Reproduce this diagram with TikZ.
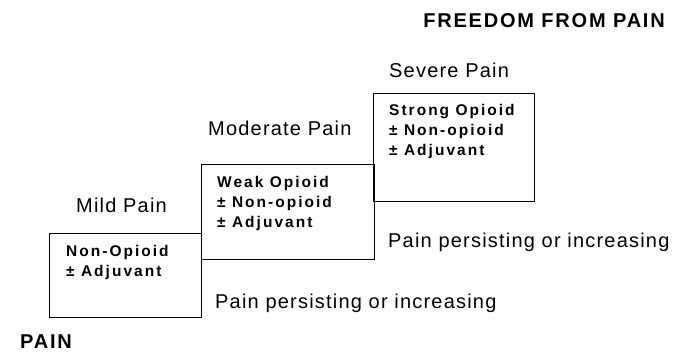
\documentclass[tikz,border=0pt]{standalone}
\usepackage{fontspec}
\setmainfont{Liberation Sans}
\newfontfamily\stepfont[LetterSpace=6]{Liberation Sans}
\newfontfamily\drugfont[LetterSpace=13]{Liberation Sans}
\newfontfamily\goalfont[LetterSpace=9]{Liberation Sans}
\usetikzlibrary{positioning,calc}

\tikzset{
	stepbox/.style={draw, line width=0.8pt, inner sep=0pt, anchor=north west},
	painlabel/.style={font=\stepfont\fontsize{20}{24}\selectfont, inner sep=0pt, anchor=base west},
	druglabel/.style={font=\drugfont\bfseries\fontsize{15.5}{20}\selectfont, inner sep=0pt, anchor=base west, align=left},
	goallabel/.style={font=\goalfont\bfseries\fontsize{20}{24}\selectfont, inner sep=0pt}
}

\begin{document}
\begin{tikzpicture}[x=1pt, y=-1pt]
	\useasboundingbox (0,0) rectangle (689,352);
	% the three steps
	\node[stepbox, minimum width=152pt, minimum height=84pt] (mild) at (49,233) {};
	\node[stepbox, minimum width=173pt, minimum height=95pt] (moderate) at (201,164) {};
	\node[stepbox, minimum width=161pt, minimum height=108pt] (severe) at (373,93) {};

	% base anchor sits on the last line
	\node[druglabel] (milddrug) at ($(mild.north west)+(17,44)$) {Non-Opioid\\± Adjuvant};
	\node[druglabel] (moderatedrug) at ($(moderate.north west)+(16,64)$) {Weak Opioid\\± Non-opioid\\± Adjuvant};
	\node[druglabel] (severedrug) at ($(severe.north west)+(16,63)$) {Strong Opioid\\± Non-opioid\\± Adjuvant};

	\node[painlabel] (mildpain) at (76,213) {Mild Pain};
	\node[painlabel] (moderatepain) at (208,136) {Moderate Pain};
	\node[painlabel] (severepain) at (389,78) {Severe Pain};

	\node[painlabel] (persistlow) at (215,309) {Pain persisting or increasing};
	\node[painlabel] (persisthigh) at (388,248) {Pain persisting or increasing};

	\node[goallabel, anchor=base west] (pain) at (20,349) {PAIN};
	\node[goallabel, anchor=base east] (freedom) at (665,28) {FREEDOM FROM PAIN};
\end{tikzpicture}
\end{document}
